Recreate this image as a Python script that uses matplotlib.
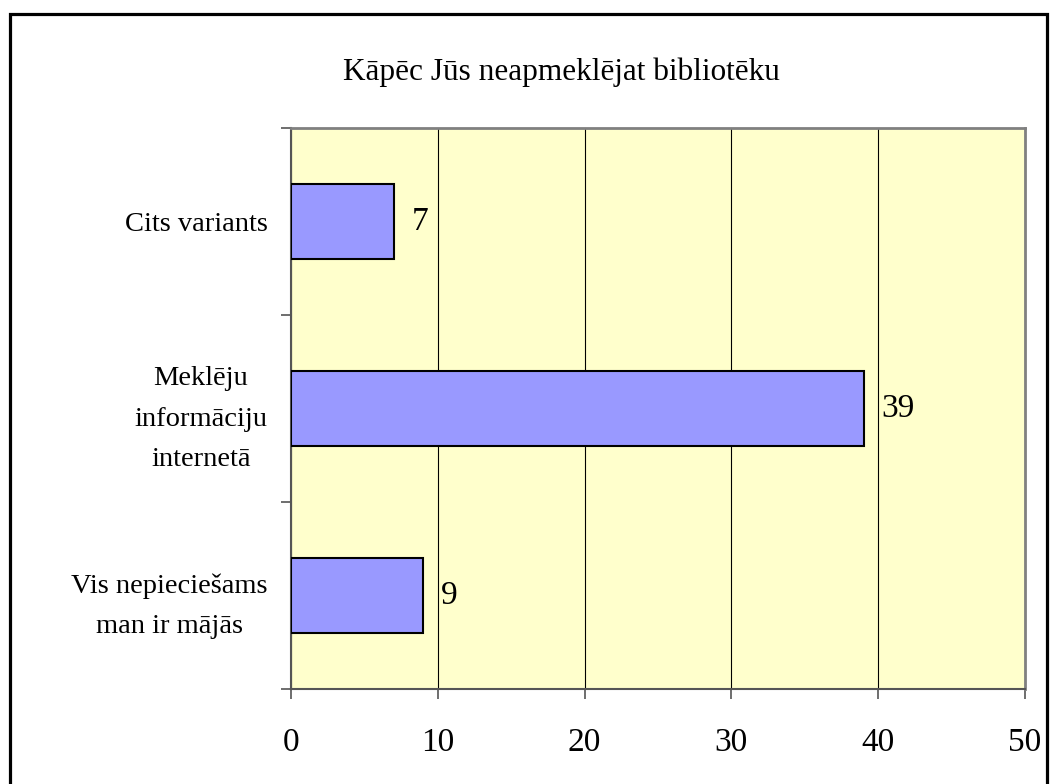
import matplotlib
matplotlib.use("Agg")
import matplotlib.pyplot as plt
from matplotlib.patches import Rectangle

plt.rcParams['font.family'] = ['Liberation Serif', 'DejaVu Serif']

# data
categories = ["Vis nepieciešams\nman ir mājās", "Meklēju\ninformāciju\ninternetā", "Cits variants"]
values = [9, 39, 7]
x_ticks = [0, 10, 20, 30, 40, 50]
title = "Kāpēc Jūs neapmeklējat bibliotēku"

W, H = 1055, 784
fig = plt.figure(figsize=(W / 100, H / 100), dpi=100)

# outer black frame of the chart object
frame = Rectangle((9.5 / W, -0.1), (1047 - 9.5) / W, 1.1 - 14 / H,
                  transform=fig.transFigure, fill=False, edgecolor='black',
                  linewidth=2.3, zorder=0)
fig.patches.append(frame)

ax = fig.add_axes([291 / W, 1 - 689 / H, (1025 - 291) / W, (689 - 128) / H])
ax.set_facecolor('#FFFFCC')

pos = list(range(len(values)))
ax.barh(pos, values, height=0.4, color='#9999FF', edgecolor='black',
        linewidth=1.5, zorder=3)

for p, v in zip(pos, values):
    ax.annotate(str(v), (v, p), xytext=(13, 0), textcoords='offset points',
                ha='left', va='center', fontsize=24)

ax.set_xlim(0, 50)
ax.set_ylim(-0.5, len(values) - 0.5)
ax.set_xticks(x_ticks)
ax.set_xticklabels([str(t) for t in x_ticks], fontsize=24)
ax.xaxis.grid(True, color='black', linewidth=0.8, zorder=1)
ax.set_axisbelow(True)

ax.set_yticks(pos)
ax.set_yticklabels(categories, fontsize=20.5, ha='right', multialignment='center',
                   linespacing=1.8)
ax.set_yticks([p - 0.5 for p in pos] + [len(values) - 0.5], minor=True)
ax.tick_params(axis='y', which='major', length=0, pad=17)
ax.tick_params(axis='y', which='minor', length=7, width=1.2, color='#555555')
ax.tick_params(axis='x', length=7, width=1.2, color='#555555', pad=21)

for side in ['left', 'bottom']:
    ax.spines[side].set_color('#555555')
    ax.spines[side].set_linewidth(1.5)
for side in ['top', 'right']:
    ax.spines[side].set_color('#808080')
    ax.spines[side].set_linewidth(2)

fig.text(561 / W, 1 - 80 / H, title, ha='center', va='baseline', fontsize=22.5)

fig.savefig('out.png', dpi=100)
